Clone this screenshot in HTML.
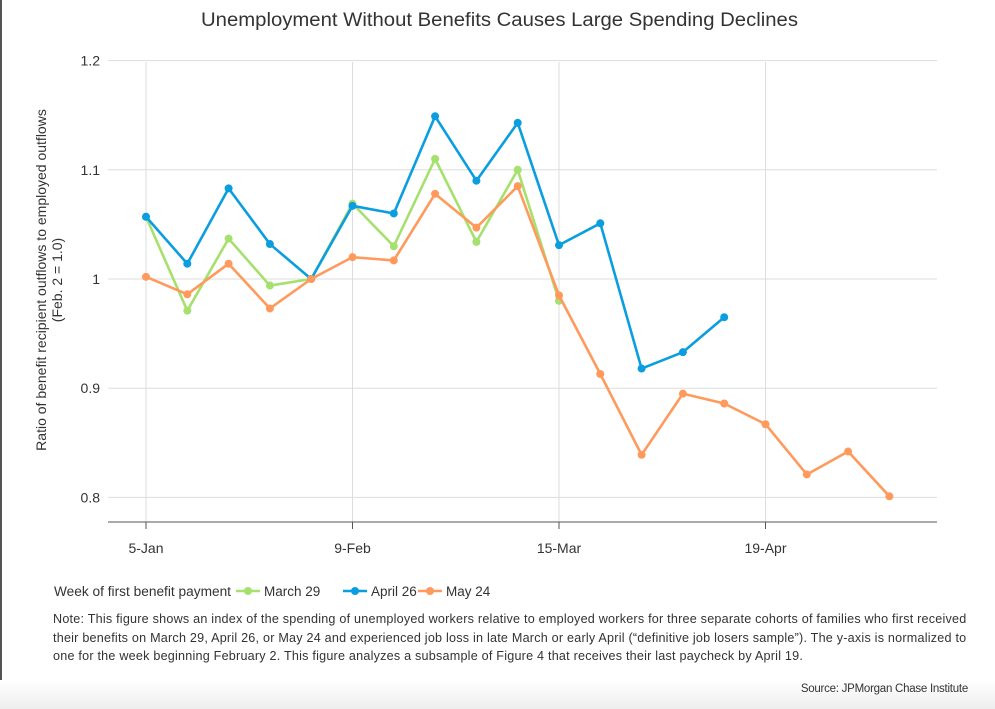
<!DOCTYPE html>
<html><head><meta charset="utf-8">
<style>
body{margin:0;width:995px;height:709px;overflow:hidden;background:#fff;font-family:"Liberation Sans",sans-serif;color:#222;position:relative}
#frame{position:absolute;left:0;top:0;width:2px;height:680px;background:#555}
#bottom{position:absolute;left:0;top:680px;width:995px;height:29px;background:linear-gradient(#fff,#eee)}
.note{position:absolute;left:53px;top:610px;width:940px;font-size:12.6px;letter-spacing:0.22px;line-height:18.5px;color:#333;white-space:nowrap}
.src{position:absolute;right:27px;top:683px;font-size:11.5px;letter-spacing:-0.25px;color:#333}
</style></head><body>
<div id="frame"></div>
<div id="bottom"></div>
<svg id="chart" width="995" height="600" style="position:absolute;left:0;top:0"></svg>
<div class="note">Note: This figure shows an index of the spending of unemployed workers relative to employed workers for three separate cohorts of families who first received<br>their benefits on March 29, April 26, or May 24 and experienced job loss in late March or early April (“definitive job losers sample”). The y-axis is normalized to<br>one for the week beginning February 2. This figure analyzes a subsample of Figure 4 that receives their last paycheck by April 19.</div>
<div class="src">Source: JPMorgan Chase Institute</div>
<script>
const xLabels=["5-Jan","9-Feb","15-Mar","19-Apr"];
const xLabelIdx=[0,5,10,15];
const yTicks=[0.8,0.9,1,1.1,1.2];
const seriesNames=["March 29","April 26","May 24"];
const seriesColors=["#a6e06e","#0a9ee0","#ff9a5c"];
const march29=[1.057,0.971,1.037,0.994,1.0,1.069,1.030,1.110,1.034,1.100,0.980];
const april26=[1.057,1.014,1.083,1.032,1.0,1.067,1.060,1.149,1.090,1.143,1.031,1.051,0.918,0.933,0.965];
const may24=[1.002,0.986,1.014,0.973,1.0,1.020,1.017,1.078,1.047,1.085,0.985,0.913,0.839,0.895,0.886,0.867,0.821,0.842,0.801];
const NS="http://www.w3.org/2000/svg";
const svg=document.getElementById('chart');
const X=i=>146+i*41.3;
const Y=v=>279-(v-1)*1092;
function el(t,a,txt){const e=document.createElementNS(NS,t);for(const k in a)e.setAttribute(k,a[k]);if(txt!==undefined)e.textContent=txt;svg.appendChild(e);return e;}
let t=el('text',{x:201,y:26,'font-size':19,fill:'#333',textLength:597,lengthAdjust:'spacingAndGlyphs'},'Unemployment Without Benefits Causes Large Spending Declines');


yTicks.forEach(v=>{
 const g=el('line',{x1:108,x2:937,y1:Y(v),y2:Y(v),stroke:'#ddd','stroke-width':1});
 
 
 const l=el('text',{x:100,y:Y(v)+5,'text-anchor':'end','font-size':14,fill:'#333'},v===1?'1':v.toFixed(1));
 
 
});
xLabels.forEach((s,k)=>{
 const x=X(xLabelIdx[k]);
 const g=el('line',{x1:x,x2:x,y1:62,y2:522,stroke:'#ddd','stroke-width':1});
 
 
 const tk=el('line',{x1:x,x2:x,y1:522,y2:529,stroke:'#555'});
 
 
 const l=el('text',{x:x,y:553,'text-anchor':'middle','font-size':14,fill:'#333'},s);
 
 
});
const ax=el('line',{x1:108,x2:937,y1:522,y2:522,stroke:'#555'});


const yt=el('text',{transform:'translate(46,280) rotate(-90)','text-anchor':'middle','font-size':14,fill:'#333'});


const ts1=document.createElementNS(NS,'tspan');ts1.setAttribute('x',0);ts1.setAttribute('y',0);ts1.textContent='Ratio of benefit recipient outflows to employed outflows';yt.appendChild(ts1);
const ts2=document.createElementNS(NS,'tspan');ts2.setAttribute('x',0);ts2.setAttribute('y',16);ts2.textContent='(Feb. 2 = 1.0)';yt.appendChild(ts2);
[march29,april26,may24].forEach((d,si)=>{
 const pts=d.map((v,i)=>X(i)+','+Y(v)).join(' ');
 const pl=el('polyline',{points:pts,fill:'none',stroke:seriesColors[si],'stroke-width':2.6,'stroke-linejoin':'round'});
 
 
 d.forEach((v,i)=>{
  const c=el('circle',{cx:X(i),cy:Y(v),r:4,fill:seriesColors[si]});
  
  
 });
});
const lt=el('text',{x:54,y:596,'font-size':13.5,fill:'#333',textLength:177,lengthAdjust:'spacingAndGlyphs'},'Week of first benefit payment');


const lx=[236,343,418];
seriesNames.forEach((n,i)=>{
 const x=lx[i];
 const ln=el('line',{x1:x,x2:x+24,y1:591,y2:591,stroke:seriesColors[i],'stroke-width':2.6});
 
 
 const c=el('circle',{cx:x+12,cy:591,r:4,fill:seriesColors[i]});
 
 
 const tx=el('text',{x:x+28,y:596,'font-size':13.5,fill:'#333'},n);
 
 
});
</script>
</body></html>
